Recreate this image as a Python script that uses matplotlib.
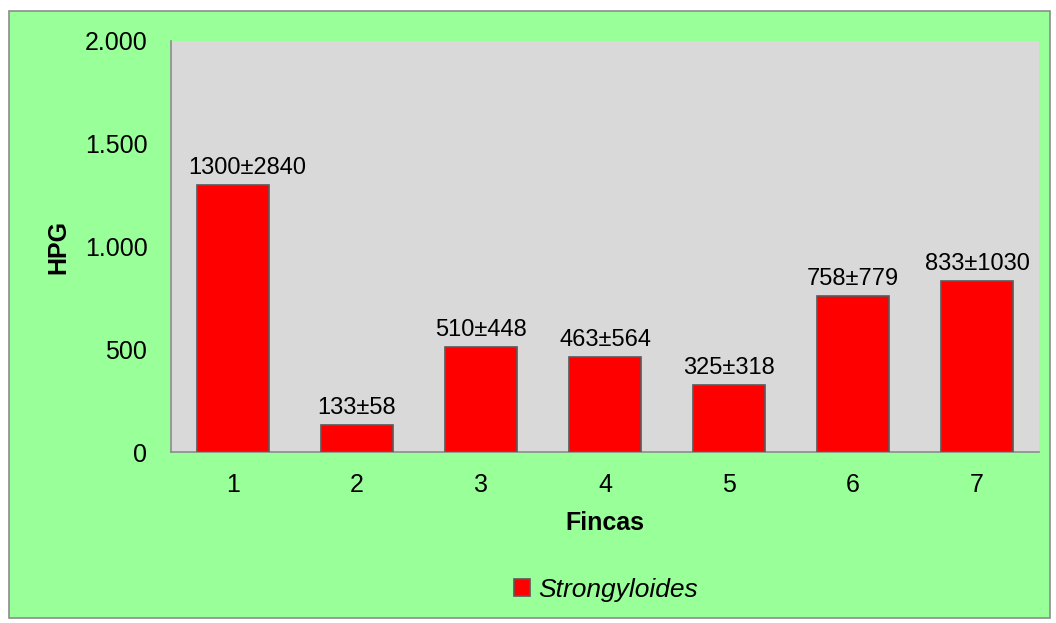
import matplotlib
matplotlib.use("Agg")
import matplotlib.pyplot as plt
from matplotlib.patches import Rectangle
from matplotlib.ticker import FuncFormatter

fincas = ["1", "2", "3", "4", "5", "6", "7"]
hpg_mean = [1300, 133, 510, 463, 325, 758, 833]
hpg_sd = [2840, 58, 448, 564, 318, 779, 1030]
series_name = "Strongyloides"

plt.rcParams["font.family"] = ["Liberation Sans", "DejaVu Sans"]

W, H = 1056, 623
fig = plt.figure(figsize=(W / 100, H / 100), dpi=100)
fig.patch.set_facecolor("white")

# green chart area with gray border
fig.patches.append(Rectangle((9 / W, 1 - 618 / H), (1050 - 9) / W, (618 - 11) / H,
                             transform=fig.transFigure, facecolor="#99FF99",
                             edgecolor="#8C8C8C", linewidth=1.2, zorder=-5))

ax = fig.add_axes([171 / W, 1 - 452 / H, (1039 - 171) / W, (452 - 41) / H])
ax.set_facecolor("#D9D9D9")

x = list(range(len(fincas)))
bars = ax.bar(x, hpg_mean, width=0.58, color="#FF0000", edgecolor="#595959",
              linewidth=1.2, label=series_name, zorder=3)

# value labels "mean±sd" above each bar; the first one sits a little right and higher
for i, (xi, m, s) in enumerate(zip(x, hpg_mean, hpg_sd)):
    dx, dy = (10, 8) if i == 0 else (0, 8)
    ax.annotate(f"{m}±{s}", xy=(xi, m), xytext=(dx, dy), textcoords="offset points",
                ha="center", va="baseline", fontsize=17, color="black", zorder=4)

ax.set_xlim(-0.5, len(fincas) - 0.5)
ax.set_ylim(0, 2000)
ax.set_yticks([0, 500, 1000, 1500, 2000])
ax.yaxis.set_major_formatter(FuncFormatter(lambda v, p: f"{int(v):,}".replace(",", ".")))
ax.set_xticks(x)
ax.set_xticklabels(fincas)
ax.tick_params(axis="both", length=0, labelsize=18)
ax.tick_params(axis="y", pad=17)
ax.tick_params(axis="x", pad=15)

for side in ["top", "right"]:
    ax.spines[side].set_visible(False)
for side in ["left", "bottom"]:
    ax.spines[side].set_color("#8C8C8C")
    ax.spines[side].set_linewidth(1.2)

ax.set_xlabel("Fincas", fontsize=18, fontweight="bold", labelpad=10)
ax.set_ylabel("HPG", fontsize=18, fontweight="bold", labelpad=10)

leg = fig.legend(handles=[bars], labels=[series_name], loc="center",
                 bbox_to_anchor=(0.574, 1 - 590 / H), frameon=False,
                 prop={"style": "italic", "size": 19}, handlelength=0.6,
                 handleheight=0.6, handletextpad=0.3)

fig.savefig("out.png", dpi=100, facecolor=fig.get_facecolor())
